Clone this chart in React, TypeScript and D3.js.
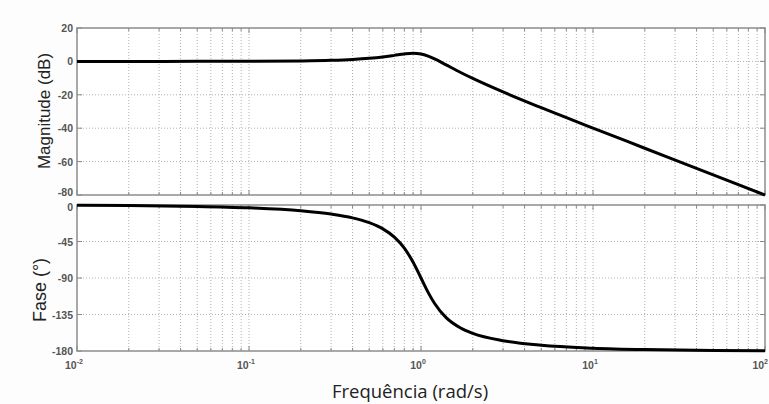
import React, { useEffect, useRef } from 'react';
import * as d3 from 'd3';

// frequencies (rad/s)
const freq = [0.01, 0.02, 0.05, 0.1, 0.2, 0.3, 0.4, 0.5, 0.6, 0.7, 0.8, 0.9, 1.0, 1.1, 1.2, 1.4, 1.7, 2, 3, 5, 10, 20, 50, 100];
// magnitude (dB)
const magnitude = [0, 0, 0.02, 0.07, 0.29, 0.65, 1.17, 1.85, 2.68, 3.6, 4.44, 4.85, 4.44, 3.19, 1.48, -2.11, -6.64, -10.2, -18.3, -27.7, -39.9, -52.0, -68.0, -80.0];
// phase (deg)
const phase = [-0.3, -0.7, -1.7, -3.5, -7.1, -11.2, -15.9, -21.8, -29.4, -39.5, -53.1, -70.6, -90, -107.7, -121.4, -138.8, -151.6, -158.2, -167.3, -172.9, -176.5, -178.3, -179.3, -179.7];

const magTicks = [20, 0, -20, -40, -60, -80];
const phaseTicks = [0, -45, -90, -135, -180];
const decades = [-2, -1, 0, 1, 2];

const App = () => {
  const svgRef = useRef<SVGSVGElement>(null);

  useEffect(() => {
    const width = 769;
    const height = 404;
    const left = 77;
    const right = 765;

    const svg = d3.select(svgRef.current)
      .attr('width', width)
      .attr('height', height);
    svg.selectAll('*').remove();

    svg.append('rect').attr('width', width).attr('height', height).attr('fill', '#fdfdfd');

    const x = d3.scaleLog().domain([0.01, 100]).range([left, right]);

    const minor: number[] = [];
    for (let e = -2; e < 2; e++) {
      for (let m = 1; m < 10; m++) minor.push(m * Math.pow(10, e));
    }
    minor.push(100);

    const panels = [
      { top: 28, bottom: 195, domain: [-80, 20], ticks: magTicks, values: magnitude },
      { top: 205, bottom: 351, domain: [-180, 0], ticks: phaseTicks, values: phase },
    ];

    panels.forEach((p, pi) => {
      const y = d3.scaleLinear().domain(p.domain).range([p.bottom, p.top]);
      const g = svg.append('g');

      g.append('rect')
        .attr('x', left).attr('y', p.top)
        .attr('width', right - left).attr('height', p.bottom - p.top)
        .attr('fill', '#ffffff');

      // vertical grid
      g.selectAll('.vgrid')
        .data(minor.filter(v => v > 0.01 && v < 100))
        .enter()
        .append('line')
        .attr('x1', d => x(d)).attr('x2', d => x(d))
        .attr('y1', p.top).attr('y2', p.bottom)
        .attr('stroke', '#b0b0b0')
        .attr('stroke-width', 1)
        .attr('stroke-dasharray', '1,2');

      // horizontal grid
      g.selectAll('.hgrid')
        .data(p.ticks.filter(v => v !== p.domain[0] && v !== p.domain[1]))
        .enter()
        .append('line')
        .attr('x1', left).attr('x2', right)
        .attr('y1', d => y(d)).attr('y2', d => y(d))
        .attr('stroke', '#b0b0b0')
        .attr('stroke-width', 1)
        .attr('stroke-dasharray', '1,2');

      // x tick marks top and bottom
      minor.forEach((v) => {
        const len = Number.isInteger(Math.log10(v)) ? 5 : 3;
        g.append('line').attr('x1', x(v)).attr('x2', x(v)).attr('y1', p.bottom).attr('y2', p.bottom - len)
          .attr('stroke', '#888').attr('stroke-width', 1);
        g.append('line').attr('x1', x(v)).attr('x2', x(v)).attr('y1', p.top).attr('y2', p.top + len)
          .attr('stroke', '#888').attr('stroke-width', 1);
      });

      // y tick marks left and right
      p.ticks.forEach((v) => {
        g.append('line').attr('x1', left).attr('x2', left + 5).attr('y1', y(v)).attr('y2', y(v))
          .attr('stroke', '#888').attr('stroke-width', 1);
        g.append('line').attr('x1', right).attr('x2', right - 5).attr('y1', y(v)).attr('y2', y(v))
          .attr('stroke', '#888').attr('stroke-width', 1);
      });

      g.append('rect')
        .attr('x', left).attr('y', p.top)
        .attr('width', right - left).attr('height', p.bottom - p.top)
        .attr('fill', 'none')
        .attr('stroke', '#8c8c8c')
        .attr('stroke-width', 1.5);

      g.selectAll('.ylab')
        .data(p.ticks)
        .enter()
        .append('text')
        .attr('x', left - 4)
        .attr('y', d => {
          // keep the -80 / 0 labels where the two panels meet apart
          if (pi === 0 && d === p.domain[0]) return y(d) + 1;
          if (pi === 1 && d === p.domain[1]) return y(d) + 6;
          return y(d) + 4;
        })
        .attr('text-anchor', 'end')
        .attr('font-family', 'Arial, "Liberation Sans", sans-serif')
        .attr('font-size', 10.5)
        .attr('font-weight', 'bold')
        .attr('fill', '#555')
        .text(d => String(d));

      const line = d3.line<number>()
        .x((_, i) => x(freq[i]))
        .y(d => y(d))
        .curve(d3.curveMonotoneX);

      g.append('path')
        .datum(p.values)
        .attr('d', line)
        .attr('fill', 'none')
        .attr('stroke', '#000')
        .attr('stroke-width', 3)
        .attr('stroke-linejoin', 'round');
    });

    // decade labels
    const xl = svg.append('g');
    decades.forEach((e) => {
      const t = xl.append('text')
        .attr('x', e === 2 ? width - 1 : x(Math.pow(10, e)) - 3)
        .attr('y', 369)
        .attr('text-anchor', e === 2 ? 'end' : 'middle')
        .attr('font-family', 'Arial, "Liberation Sans", sans-serif')
        .attr('font-size', 10.5)
        .attr('font-weight', 'bold')
        .attr('fill', '#555');
      t.append('tspan').text('10');
      t.append('tspan').attr('dy', -5).attr('font-size', 7).text(String(e));
    });

    svg.append('text')
      .attr('transform', 'translate(50, 111) rotate(-90)')
      .attr('text-anchor', 'middle')
      .attr('font-family', 'Arial, "Liberation Sans", sans-serif')
      .attr('font-size', 17)
      .attr('fill', '#222')
      .text('Magnitude (dB)');

    svg.append('text')
      .attr('transform', 'translate(46, 290) rotate(-90)')
      .attr('text-anchor', 'middle')
      .attr('font-family', 'Arial, "Liberation Sans", sans-serif')
      .attr('font-size', 18)
      .attr('fill', '#222')
      .text('Fase (°)');

    svg.append('text')
      .attr('x', 410)
      .attr('y', 398)
      .attr('text-anchor', 'middle')
      .attr('font-family', '"Open Sans", "DejaVu Sans", sans-serif')
      .attr('font-size', 18.5)
      .attr('fill', '#222')
      .text('Frequência (rad/s)');
  }, []);

  return (
    <div style={{ position: 'absolute', left: 0, top: 0 }}>
      <svg ref={svgRef} style={{ display: 'block' }}></svg>
    </div>
  );
};

export default App;
